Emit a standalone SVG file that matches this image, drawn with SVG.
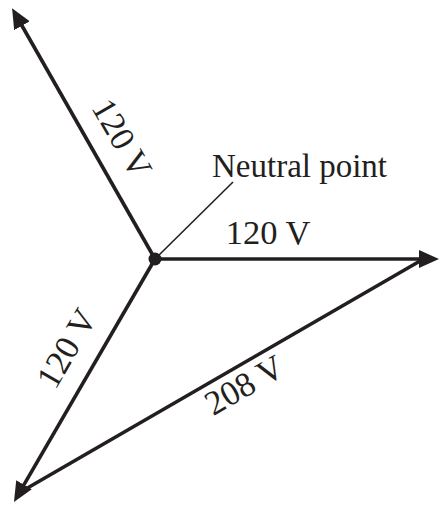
<svg xmlns="http://www.w3.org/2000/svg" width="439" height="505" viewBox="0 0 439 505">
  <style>
    .ln { stroke: #231f20; stroke-width: 3.6; fill: none; }
    .thin { stroke: #231f20; stroke-width: 1.6; fill: none; }
    .lbl { font-family: "Liberation Serif", "Times New Roman", serif; font-size: 34.5px; fill: #231f20; }
  </style>
  <defs>
    <marker id="arr" viewBox="0 0 20 18" refX="2" refY="9" markerWidth="20" markerHeight="18" markerUnits="userSpaceOnUse" orient="auto">
      <path d="M0,0 L20,9 L0,18 z" fill="#231f20"/>
    </marker>
  </defs>
  <rect width="439" height="505" fill="#ffffff"/>
  <g id="connectors">
    <line class="ln" x1="155" y1="259" x2="21" y2="24" marker-end="url(#arr)"/>
    <line class="ln" x1="155" y1="259" x2="421" y2="259" marker-end="url(#arr)"/>
    <line class="ln" x1="155" y1="259" x2="23" y2="486.4" marker-end="url(#arr)"/>
    <line class="ln" x1="420" y1="261" x2="24" y2="490"/>
    <line class="thin" x1="156" y1="258" x2="233" y2="182"/>
  </g>
  <g id="neutral">
    <circle cx="155" cy="259" r="6.5" fill="#231f20"/>
    <text class="lbl" x="212" y="177" style="font-size:33px">Neutral point</text>
  </g>
  <g id="labels">
    <text class="lbl" x="268" y="244" text-anchor="middle">120 V</text>
    <text class="lbl" x="112" y="144" text-anchor="middle" transform="rotate(60 112 144)">120 V</text>
    <text class="lbl" x="76.5" y="354" text-anchor="middle" transform="rotate(-60 76.5 354)">120 V</text>
    <text class="lbl" x="250" y="395" text-anchor="middle" transform="rotate(-30 250 395)">208 V</text>
  </g>
</svg>
